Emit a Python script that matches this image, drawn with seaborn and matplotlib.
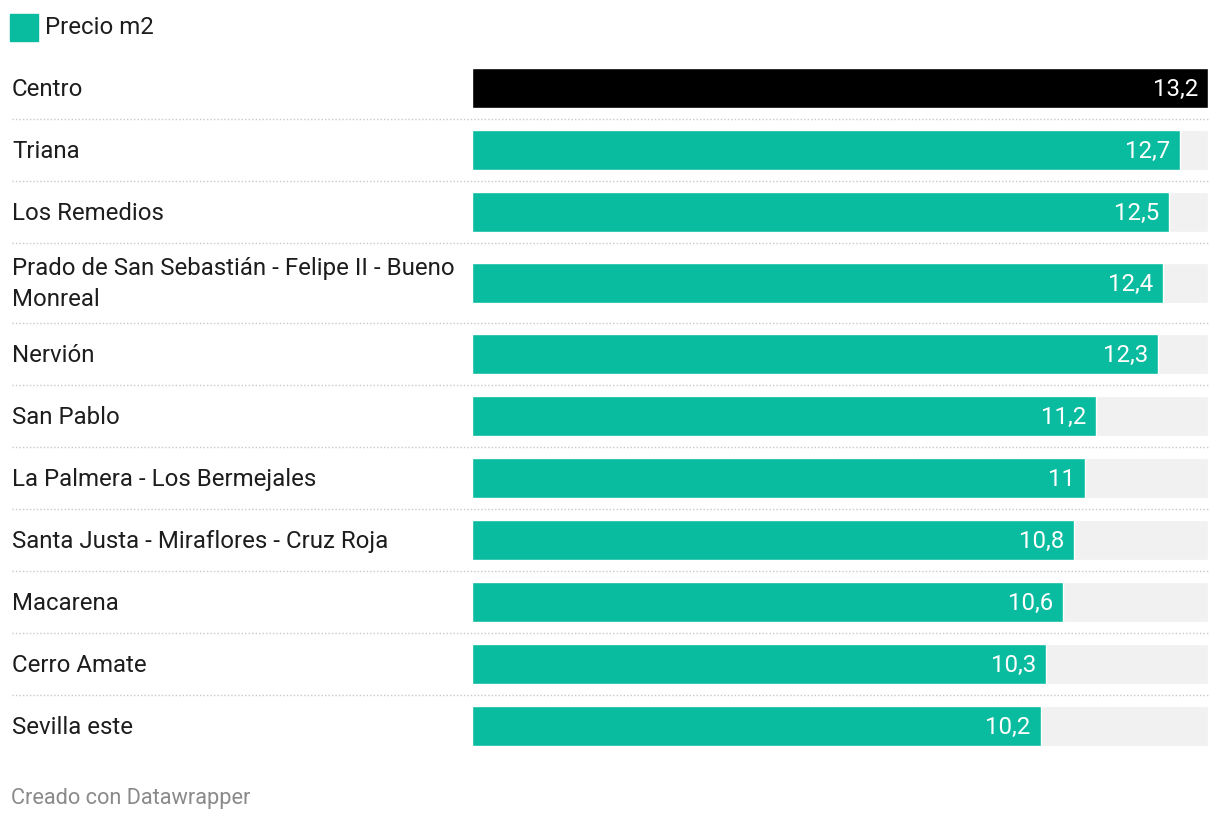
import matplotlib
matplotlib.use("Agg")
import matplotlib.pyplot as plt
import matplotlib.transforms as mtransforms
from matplotlib.patches import Rectangle
import numpy as np
import pandas as pd
import seaborn as sns

barrios = [
    "Centro",
    "Triana",
    "Los Remedios",
    "Prado de San Sebastián - Felipe II - Bueno\nMonreal",
    "Nervión",
    "San Pablo",
    "La Palmera - Los Bermejales",
    "Santa Justa - Miraflores - Cruz Roja",
    "Macarena",
    "Cerro Amate",
    "Sevilla este",
]
precio_m2 = [13.2, 12.7, 12.5, 12.4, 12.3, 11.2, 11.0, 10.8, 10.6, 10.3, 10.2]
destacado = "Centro"
serie = "Precio m2"
fuente = "Creado con Datawrapper"

TEAL = "#09bb9f"
FONDO = "#f1f1f1"
TEXTO = "#1d1d1d"

sns.set_theme(style="white")
plt.rcParams["font.family"] = ["Roboto", "DejaVu Sans"]

W, H = 1220, 822
fig = plt.figure(figsize=(W / 100, H / 100), dpi=100)
top, bottom = 57, 757
ax = fig.add_axes([472 / W, (H - bottom) / H, 736 / W, (bottom - top) / H])

# alto de cada fila en pixeles (las etiquetas de dos lineas ocupan mas)
row_h = np.array([62 + 18 * b.count("\n") for b in barrios])
fin_fila = top + np.cumsum(row_h)
centros = fin_fila - row_h / 2

df = pd.DataFrame({"barrio": barrios, "precio": precio_m2, "y": centros})
df["fondo"] = max(precio_m2)
colores = {b: ("black" if b == destacado else TEAL) for b in barrios}

ancho = 40 / 62
sns.barplot(data=df, x="fondo", y="y", orient="h", native_scale=True,
            color=FONDO, saturation=1, width=ancho, errorbar=None, ax=ax)
sns.barplot(data=df, x="precio", y="y", hue="barrio", palette=colores,
            orient="h", native_scale=True, dodge=False, legend=False,
            saturation=1, width=ancho, errorbar=None, ax=ax)

ax.set_xlim(0, max(precio_m2))
ax.set_ylim(bottom, top)
ax.axis("off")

fs = 17.3
tr = mtransforms.blended_transform_factory(fig.transFigure, ax.transData)
lab_tr = mtransforms.offset_copy(tr, fig=fig, x=0, y=-1, units="dots")
val_tr = mtransforms.offset_copy(ax.transData, fig=fig, x=-10, y=-1, units="dots")

for b, v, c in zip(barrios, precio_m2, centros):
    ax.text(12 / W, c, b, transform=lab_tr, ha="left", va="center",
            fontsize=fs, color=TEXTO, linespacing=1.4, clip_on=False)
    ax.text(v, c, f"{v:g}".replace(".", ","), transform=val_tr,
            ha="right", va="center", fontsize=fs, color="white")

for y in fin_fila[:-1]:
    ax.plot([12 / W, 1208 / W], [y, y], transform=tr, color="#c8c8c8",
            linewidth=1, linestyle=(0, (1, 1.5)), clip_on=False)

# leyenda
fig.patches.append(Rectangle((10 / W, (H - 41) / H), 28 / W, 27 / H,
                             transform=fig.transFigure, color=TEAL))
fig.text(45 / W, (H - 27) / H, serie, ha="left", va="center",
         fontsize=fs, color=TEXTO)

fig.text(11 / W, (H - 798) / H, fuente, ha="left", va="center",
         fontsize=15.7, color="#8a8a8a")

fig.savefig("out.png", dpi=100)
